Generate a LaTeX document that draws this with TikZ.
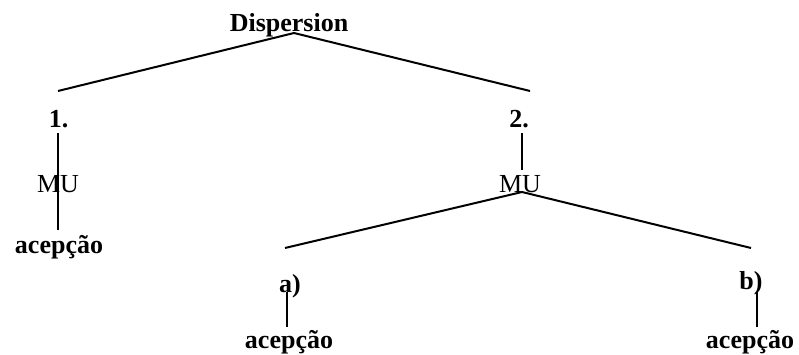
\documentclass[tikz,border=0pt]{standalone}
\usepackage{fontspec}
\setmainfont{Liberation Serif}
\begin{document}
\begin{tikzpicture}[x=1pt,y=1pt,
  lbl/.style={inner sep=0pt,anchor=base,font=\fontsize{26}{30}\selectfont\bfseries},
  mu/.style={inner sep=0pt,anchor=base,font=\fontsize{26}{30}\selectfont},
  edge/.style={line width=2pt}]
\useasboundingbox (0,0) rectangle (799,355);
% nodes
\node[lbl] (disp) at (289,323) {Dispersion};
\node[lbl] (one) at (58.5,227) {1.};
\node[mu] (mua) at (58,162) {MU};
\node[lbl] (acep1) at (59,101) {acepção};
\node[lbl] (two) at (519,227) {2.};
\node[mu] (mub) at (520,162) {MU};
\node[lbl] (sa) at (290,62) {a)};
\node[lbl] (acepa) at (289,6) {acepção};
\node[lbl] (sb) at (751,65) {b)};
\node[lbl] (acepb) at (750,6) {acepção};
% connector points
\coordinate (apex) at (294,322);
\coordinate (left1) at (58,264);
\coordinate (right2) at (530,264);
\coordinate (v1top) at (58,222);
\coordinate (v1bot) at (58,125);
\coordinate (v2top) at (522,222);
\coordinate (v2bot) at (522,185);
\coordinate (junc) at (522,163);
\coordinate (la) at (285,107);
\coordinate (rb) at (751,107);
\coordinate (vatop) at (287,63);
\coordinate (vabot) at (287,28);
\coordinate (vbtop) at (757,63);
\coordinate (vbbot) at (757,28);
% connectors
\draw[edge] (left1) -- (apex) -- (right2);
\draw[edge] (v1top) -- (v1bot);
\draw[edge] (v2top) -- (v2bot);
\draw[edge] (la) -- (junc) -- (rb);
\draw[edge] (vatop) -- (vabot);
\draw[edge] (vbtop) -- (vbbot);
\end{tikzpicture}
\end{document}
